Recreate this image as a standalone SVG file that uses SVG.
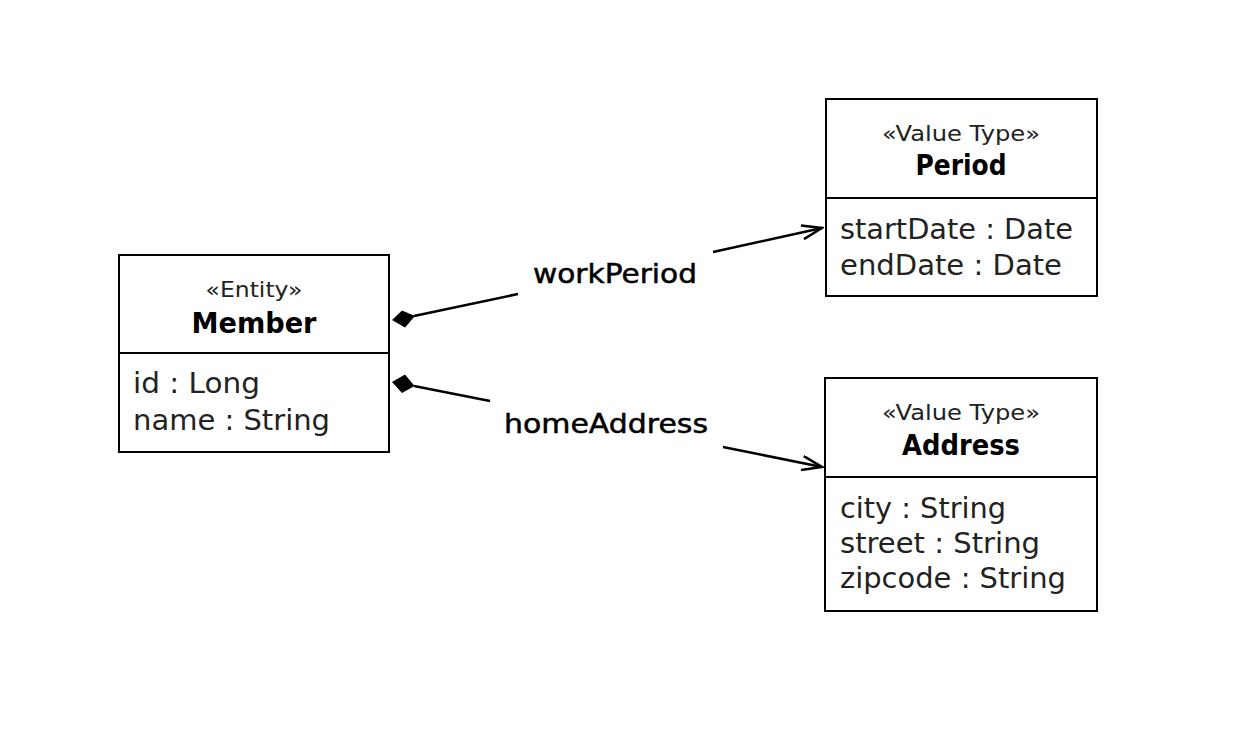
<svg xmlns="http://www.w3.org/2000/svg" width="1250" height="738" viewBox="0 0 1250 738">
  <style>
    .box { fill: #fff; stroke: #000; stroke-width: 2; }
    .div { stroke: #000; stroke-width: 2; }
    .st { font-family: "DejaVu Sans", "Liberation Sans", sans-serif; font-size: 22px; fill: #222; text-anchor: middle; }
    .nm { font-family: "DejaVu Sans", "Liberation Sans", sans-serif; font-size: 28px; font-weight: bold; fill: #000; text-anchor: middle; }
    .at { font-family: "DejaVu Sans", "Liberation Sans", sans-serif; font-size: 29px; fill: #222; }
    .lbl { font-family: "DejaVu Sans", "Liberation Sans", sans-serif; font-size: 27px; fill: #000; stroke: #000; stroke-width: 0.5; text-anchor: middle; }
    .ln { stroke: #000; stroke-width: 2.5; fill: none; }
    .dia { fill: #000; }
  </style>
  <defs>
    <!-- open navigability arrowhead -->
    <marker id="open" viewBox="0 0 24 16" refX="22" refY="8" markerWidth="24" markerHeight="16" markerUnits="userSpaceOnUse" orient="auto">
      <path d="M2,1 L22,8 L2,15" fill="none" stroke="#000" stroke-width="2.5"/>
    </marker>
  </defs>
  <rect width="1250" height="738" fill="#fff"/>

  <g id="member">
    <rect class="box" x="119" y="255" width="270" height="197"/>
    <line class="div" x1="119" y1="353" x2="389" y2="353"/>
    <text class="st" x="254" y="297" textLength="97" lengthAdjust="spacingAndGlyphs">«Entity»</text>
    <text class="nm" x="254" y="333" textLength="125" lengthAdjust="spacingAndGlyphs">Member</text>
    <text class="at" x="133" y="393" textLength="127" lengthAdjust="spacingAndGlyphs">id : Long</text>
    <text class="at" x="133" y="430" textLength="197" lengthAdjust="spacingAndGlyphs">name : String</text>
  </g>

  <g id="period">
    <rect class="box" x="826" y="99" width="271" height="197"/>
    <line class="div" x1="826" y1="198" x2="1097" y2="198"/>
    <text class="st" x="961" y="141" textLength="158" lengthAdjust="spacingAndGlyphs">«Value Type»</text>
    <text class="nm" x="961" y="175" textLength="91" lengthAdjust="spacingAndGlyphs">Period</text>
    <text class="at" x="840" y="239" textLength="233" lengthAdjust="spacingAndGlyphs">startDate : Date</text>
    <text class="at" x="840" y="275" textLength="222" lengthAdjust="spacingAndGlyphs">endDate : Date</text>
  </g>

  <g id="address">
    <rect class="box" x="825" y="378" width="272" height="233"/>
    <line class="div" x1="825" y1="477" x2="1097" y2="477"/>
    <text class="st" x="961" y="420" textLength="158" lengthAdjust="spacingAndGlyphs">«Value Type»</text>
    <text class="nm" x="961" y="455" textLength="118" lengthAdjust="spacingAndGlyphs">Address</text>
    <text class="at" x="840" y="518" textLength="166" lengthAdjust="spacingAndGlyphs">city : String</text>
    <text class="at" x="840" y="553" textLength="200" lengthAdjust="spacingAndGlyphs">street : String</text>
    <text class="at" x="840" y="588" textLength="226" lengthAdjust="spacingAndGlyphs">zipcode : String</text>
  </g>

  <g id="connectors">
    <!-- workPeriod: Member (composition) -> Period -->
    <polygon class="dia" points="392,320 402,310.5 415,316 405,327.5"/>
    <path class="ln" d="M414,316 L518,294"/>
    <path class="ln" d="M713,252 L822,228" marker-end="url(#open)"/>
    <text class="lbl" x="615" y="283" textLength="164" lengthAdjust="spacingAndGlyphs">workPeriod</text>
    <!-- homeAddress: Member (composition) -> Address -->
    <polygon class="dia" points="392,382 405,374.5 414.5,386 402,393"/>
    <path class="ln" d="M414,386 L490,401"/>
    <path class="ln" d="M723,447 L822,467" marker-end="url(#open)"/>
    <text class="lbl" x="606" y="433" textLength="204" lengthAdjust="spacingAndGlyphs">homeAddress</text>
  </g>
</svg>
